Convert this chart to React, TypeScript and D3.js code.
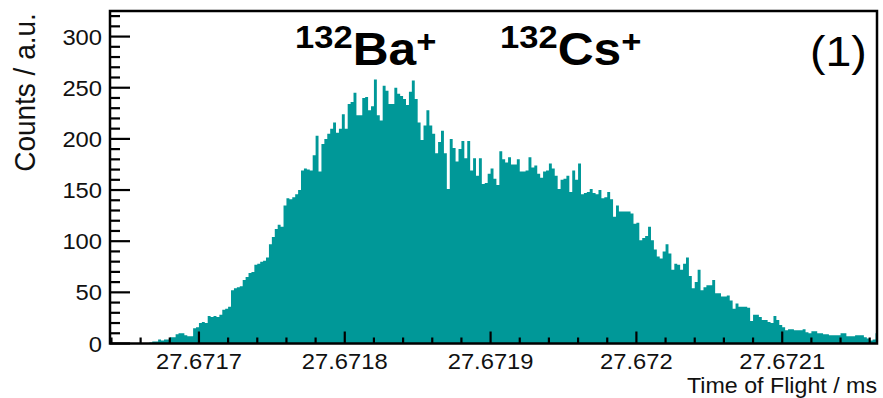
import React from "react";
import * as d3 from "d3";

// ---- data ----
const binStart = 27.67164; // ms, left edge of first bin
const binWidth = 0.000002; // ms
const counts: number[] = [
  0, 0, 0, 0, 0, 0, 0, 0, 0, 0, 0, 0, 0, 1, 2, 2, 4, 3, 4, 4,
  6, 6, 9, 10, 10, 8, 7, 7, 15, 16, 20, 21, 20, 27, 26, 27, 26, 28, 33, 34,
  36, 52, 54, 55, 56, 62, 65, 69, 70, 77, 78, 80, 81, 84, 97, 104, 112, 116, 114, 135,
  142, 141, 143, 146, 150, 169, 171, 170, 169, 184, 203, 168, 195, 200, 205, 210, 216, 206, 210, 224,
  210, 234, 236, 245, 223, 223, 240, 241, 228, 232, 258, 223, 218, 252, 247, 234, 234, 250, 244, 242,
  239, 233, 246, 257, 239, 216, 199, 213, 228, 213, 205, 186, 197, 208, 186, 151, 200, 191, 178, 190,
  198, 181, 198, 169, 181, 164, 181, 156, 157, 166, 171, 161, 155, 188, 180, 177, 182, 175, 175, 180,
  168, 168, 169, 182, 172, 174, 166, 162, 168, 169, 176, 171, 164, 151, 160, 161, 164, 148, 169, 160,
  176, 146, 147, 148, 151, 147, 146, 150, 142, 143, 148, 141, 124, 135, 129, 129, 129, 129, 127, 117,
  118, 101, 103, 105, 114, 101, 92, 85, 83, 90, 97, 88, 72, 78, 77, 72, 78, 84, 66, 54,
  60, 72, 52, 55, 57, 57, 62, 49, 49, 46, 46, 47, 42, 34, 39, 36, 36, 36, 35, 22,
  28, 28, 26, 23, 23, 21, 20, 27, 23, 18, 16, 13, 14, 14, 13, 13, 13, 14, 11, 10,
  12, 12, 10, 10, 9, 9, 8, 8, 8, 8, 10, 10, 7, 7, 7, 8, 8, 8, 6, 5,
  3, 4, 10,
];
const xTickValues = [27.6717, 27.6718, 27.6719, 27.672, 27.6721];
const xTickLabels = ["27.6717", "27.6718", "27.6719", "27.672", "27.6721"];
const yTickValues = [0, 50, 100, 150, 200, 250, 300];
const xTitle = "Time of Flight / ms";
const yTitle = "Counts / a.u.";
const panelLabel = "(1)";

const W = 883;
const H = 398;
const FONT = "'Liberation Sans', Arial, Helvetica, sans-serif";
const SX = 1.08;
const FILL = "#009898";

export default function App() {
  const left = 110, right = 877, top = 11, bottom = 343.5;
  const x = d3.scaleLinear().domain([27.671639, 27.672165]).range([left, right]);
  const y = d3.scaleLinear().domain([0, 325]).range([bottom, top]);

  const pts: [number, number][] = counts.map((c, i) => [binStart + i * binWidth, c]);
  pts.push([binStart + counts.length * binWidth, counts[counts.length - 1]]);
  const area = d3
    .area<[number, number]>()
    .x((d) => x(d[0]))
    .y0(y(0))
    .y1((d) => y(d[1]))
    .curve(d3.curveStepAfter);

  const yMinor = d3.range(0, 321, 10);
  const xMinor = d3.range(0, 27).map((i) => 27.67164 + i * 0.00002).filter((v) => x(v) >= left && x(v) <= right);

  return (
    <svg width={W} height={H} style={{ position: "absolute", left: 0, top: 0, background: "#fff" }} fontFamily={FONT}>
      <defs>
        <clipPath id="frame">
          <rect x={left} y={top} width={right - left} height={bottom - top} />
        </clipPath>
      </defs>
      <path d={area(pts) || ""} fill={FILL} clipPath="url(#frame)" />

      {/* y ticks */}
      {yMinor.map((v) => (
        <line key={"ym" + v} x1={left} x2={left + (v % 50 === 0 ? 20 : 10)} y1={y(v)} y2={y(v)} stroke="#000" strokeWidth={2.2} />
      ))}
      {/* x ticks */}
      {xMinor.map((v, i) => {
        const major = xTickValues.some((t) => Math.abs(t - v) < 1e-9);
        return (
          <line key={"xm" + i} x1={x(v)} x2={x(v)} y1={bottom} y2={bottom - (major ? 12 : 6)} stroke="#000" strokeWidth={2.2} />
        );
      })}

      {/* frame */}
      <rect x={left} y={top} width={right - left} height={bottom - top} fill="none" stroke="#000" strokeWidth={2.5} />

      {/* y tick labels */}
      {yTickValues.map((v) => (
        <text key={"yl" + v} transform={`translate(102,${y(v) + 8}) scale(${SX},1)`} textAnchor="end" fontSize={22} fill="#111">
          {v}
        </text>
      ))}
      {/* x tick labels */}
      {xTickValues.map((v, i) => (
        <text key={"xl" + i} transform={`translate(${x(v)},369) scale(${SX},1)`} textAnchor="middle" fontSize={22} fill="#111">
          {xTickLabels[i]}
        </text>
      ))}

      {/* axis titles */}
      <text transform={`translate(877,393) scale(${SX},1)`} textAnchor="end" fontSize={21.5} fill="#111">
        {xTitle}
      </text>
      <text transform={`translate(34.5,92.5) rotate(-90) scale(1,${SX})`} textAnchor="middle" fontSize={28} fill="#111">
        {yTitle}
      </text>

      {/* annotations */}
      <text transform={`translate(295,65) scale(${SX},1)`} fontWeight="bold" fill="#000">
        <tspan fontSize={32} y={-17}>132</tspan>
        <tspan fontSize={46} y={0}>Ba</tspan>
        <tspan fontSize={32} y={-13}>+</tspan>
      </text>
      <text transform={`translate(500,65) scale(${SX},1)`} fontWeight="bold" fill="#000">
        <tspan fontSize={32} y={-17}>132</tspan>
        <tspan fontSize={46} y={0}>Cs</tspan>
        <tspan fontSize={32} y={-13}>+</tspan>
      </text>
      <text transform={`translate(810,66) scale(${SX},1)`} fontSize={43} fill="#000">
        {panelLabel}
      </text>
    </svg>
  );
}
